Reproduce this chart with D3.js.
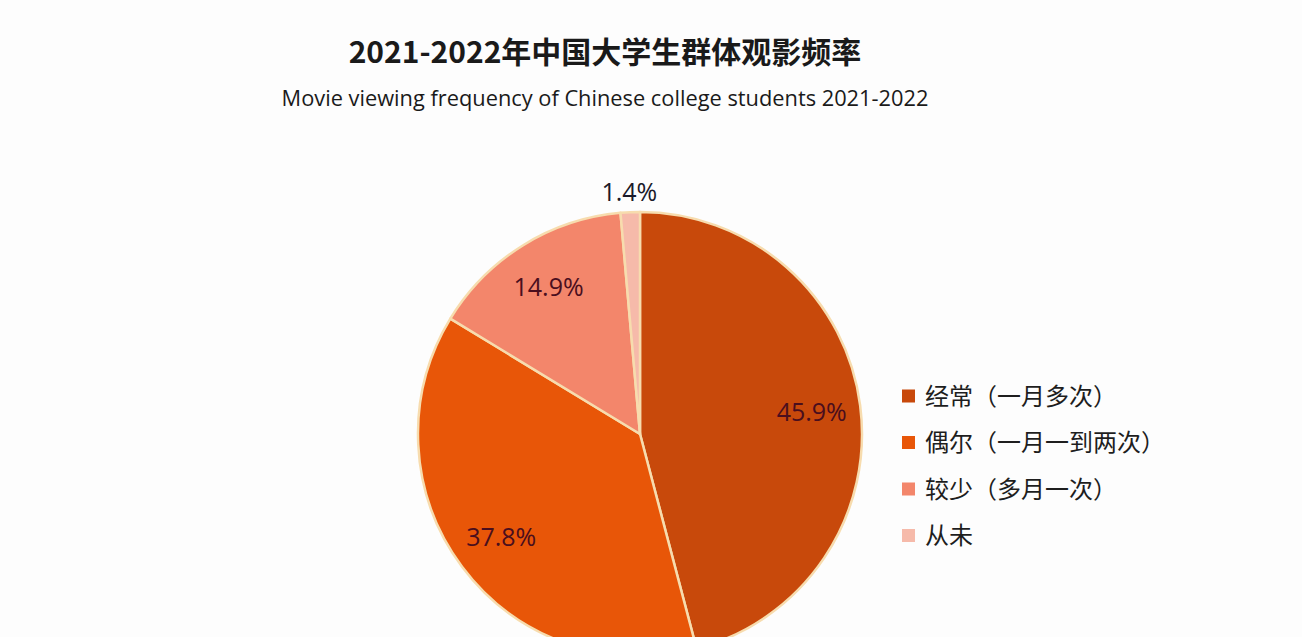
<!DOCTYPE html>
<html>
<head>
<meta charset="utf-8">
<script src="https://cdn.jsdelivr.net/npm/d3@7"></script>
<style>
    html, body { margin: 0; padding: 0; background: #fdfdfd; }
    svg { display: block; }
</style>
</head>
<body>
<svg id="chart" width="1302" height="637"></svg>
<script>
// ============================================================================
// DATA
// ============================================================================
const categories = ["经常（一月多次）", "偶尔（一月一到两次）", "较少（多月一次）", "从未"];
const shares = [45.9, 37.8, 14.9, 1.4];
const sliceColors = ["#c8490b", "#e85608", "#f3866b", "#f6baaa"];
const titleText = "2021-2022年中国大学生群体观影频率";
const subtitleText = "Movie viewing frequency of Chinese college students 2021-2022";

// ============================================================================
// LAYOUT
// ============================================================================
const width = 1302, height = 637;
const cx = 640, cy = 434, radius = 222;

const svg = d3.select("#chart");

svg.append("rect")
    .attr("width", width)
    .attr("height", height)
    .attr("fill", "#fdfdfd");

// titles
svg.append("text")
    .attr("x", 605)
    .attr("y", 63)
    .attr("text-anchor", "middle")
    .style("font-family", "'Noto Sans CJK SC', sans-serif")
    .style("font-size", "30px")
    .style("font-weight", 600)
    .style("fill", "#1a1a1a")
    .text(titleText);

svg.append("text")
    .attr("x", 605)
    .attr("y", 106)
    .attr("text-anchor", "middle")
    .style("font-family", "'Open Sans', sans-serif")
    .style("font-size", "21.8px")
    .style("fill", "#1a1a1a")
    .text(subtitleText);

// ============================================================================
// PIE
// ============================================================================
const data = categories.map((c, i) => ({ name: c, value: shares[i], color: sliceColors[i] }));

const pie = d3.pie()
    .value(d => d.value)
    .sort(null);

const arcs = pie(data);

const arc = d3.arc()
    .innerRadius(0)
    .outerRadius(radius);

const labelArc = d3.arc()
    .innerRadius(radius * 0.78)
    .outerRadius(radius * 0.78);

const outerLabelArc = d3.arc()
    .innerRadius(radius + 20)
    .outerRadius(radius + 20);

const pieGroup = svg.append("g")
    .attr("transform", `translate(${cx},${cy})`);

pieGroup.selectAll(".slice")
    .data(arcs)
    .join("path")
    .attr("class", "slice")
    .attr("d", arc)
    .attr("fill", d => d.data.color)
    .attr("stroke", "#f7dcae")
    .attr("stroke-width", 2.5)
    .attr("stroke-linejoin", "round");

// percentage labels - small slices go outside
pieGroup.selectAll(".pct")
    .data(arcs)
    .join("text")
    .attr("class", "pct")
    .attr("transform", d => {
        const p = d.data.value < 5 ? outerLabelArc.centroid(d) : labelArc.centroid(d);
        return `translate(${p[0]},${p[1]})`;
    })
    .attr("text-anchor", "middle")
    .attr("dy", "0.35em")
    .style("font-family", "'Open Sans', sans-serif")
    .style("font-size", "25px")
    .style("fill", d => d.data.value < 5 ? "#1a1a2a" : "#4a0e1e")
    .text(d => d3.format(".1f")(d.data.value) + "%");

// ============================================================================
// LEGEND
// ============================================================================
const legend = svg.append("g")
    .attr("transform", "translate(902,396)");

const rows = legend.selectAll(".legend-row")
    .data(data)
    .join("g")
    .attr("class", "legend-row")
    .attr("transform", (d, i) => `translate(0,${i * 46.5})`);

rows.append("rect")
    .attr("x", 0)
    .attr("y", -6.5)
    .attr("width", 13)
    .attr("height", 13)
    .attr("fill", d => d.color);

rows.append("text")
    .attr("x", 23)
    .attr("y", 0)
    .attr("dy", "0.36em")
    .style("font-family", "'Noto Sans CJK SC', sans-serif")
    .style("font-size", "24px")
    .style("fill", "#1e1e1e")
    .text(d => d.name);
</script>
</body>
</html>
